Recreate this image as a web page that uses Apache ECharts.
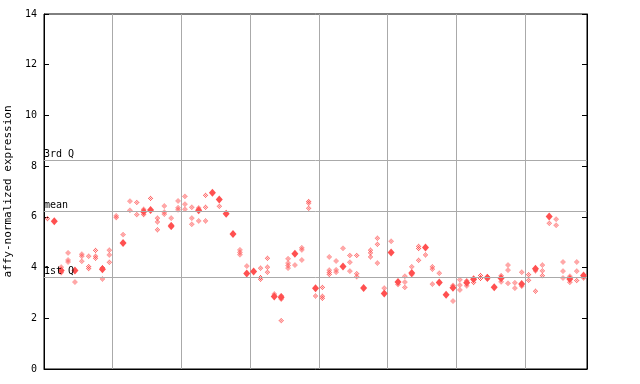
<!DOCTYPE html>
<html><head><meta charset="utf-8">
<script src="https://cdn.jsdelivr.net/npm/echarts@6/dist/echarts.min.js"></script>
<style>html,body{margin:0;padding:0;background:#fff}#c{width:640px;height:384px}</style>
</head><body><div id="c"></div>
<script>
// replicate values per sample (hatched diamonds)
var replicateValues = [
 [5.93],[],[4.02,3.80],[4.58,4.30,4.22],[3.43],[4.53,4.45,4.25],[4.45,4.04,3.96],[4.68,4.45,4.37],[4.00,3.55],[4.69,4.50,4.21],
 [6.04,5.97],[5.30],[6.62,6.26],[6.57,6.09],[6.30,6.09],[6.73],[5.95,5.80,5.49],[6.43,6.19,6.11],[5.95,5.68,5.60],[6.63,6.36,6.28],
 [6.81,6.50,6.30],[6.38,5.95,5.71],[6.35,5.84],[6.85,6.38,5.84],[],[6.42],[],[],[4.70,4.60,4.51],[4.06],
 [],[3.98,3.61,3.54],[4.37,4.02,3.82],[2.96],[2.89,2.76,1.91],[4.35,4.18,4.08,3.98],[4.10],[4.78,4.70,4.30],[6.61,6.54,6.34],[2.88],
 [3.22,2.87,2.79],[4.42,3.90,3.81,3.73],[4.26,3.91,3.82],[4.76],[4.48,4.21,3.86],[4.48,3.76,3.64],[],[4.69,4.58,4.42],[5.16,4.92,4.18],[3.19],
 [5.04],[3.33],[3.66,3.43,3.22],[4.03,3.72],[4.84,4.75,4.29],[4.50],[4.03,3.94,3.35],[3.78],[],[3.30,2.68],
 [3.52,3.31,3.12],[3.48,3.28],[3.41],[3.69,3.57],[3.65,3.55],[],[3.68,3.44],[4.10,3.90,3.38],[3.40,3.19],[3.82,3.27],
 [3.72,3.50],[3.87,3.07],[4.10,3.87,3.68],[5.75],[5.91,5.67],[4.22,3.86,3.59],[3.66,3.42],[4.22,3.86,3.49],[3.59]
];
// highlighted (solid) values per sample
var meanValues = [
 null,5.83,3.88,null,3.88,null,null,null,3.93,null,
 null,4.97,null,null,6.20,6.27,null,null,5.64,null,
 null,null,6.26,null,6.95,6.68,6.12,5.32,null,3.77,
 3.85,null,null,2.86,2.83,null,4.55,null,null,3.18,
 null,null,null,4.04,null,null,3.19,null,null,2.98,
 4.59,3.43,null,3.79,null,4.79,null,3.41,2.93,3.20,
 null,3.40,3.54,null,3.60,3.22,3.58,null,null,3.35,
 null,3.95,null,6.01,null,null,3.55,null,3.69
];
var yTicks = [0,2,4,6,8,10,12,14];
var quartileLabels = ['3rd Q','mean','1st Q'];
var quartileValues = [8.24, 6.22, 3.62];

var nSamples = replicateValues.length;
var repData = [];
replicateValues.forEach(function(arr,i){ arr.forEach(function(v){ repData.push([i+0.5, v]); }); });
var meanData = [];
meanValues.forEach(function(v,i){ if(v!==null) meanData.push([i+0.5, v]); });

// checkered diamond symbol image
function checkerDiamond(){
  var c = document.createElement('canvas'); c.width = 7; c.height = 7;
  var g = c.getContext('2d'); g.fillStyle = '#ff5050';
  for (var y=0;y<7;y++) for (var x=0;x<7;x++){
    if (Math.abs(x-3)+Math.abs(y-3) <= 3 && ((x+y)%2===0)) g.fillRect(x,y,1,1);
  }
  return 'image://' + c.toDataURL();
}

var mono = 'DejaVu Sans Mono';
var chart = echarts.init(document.getElementById('c'), null, {renderer:'canvas'});
chart.setOption({
  animation:false,
  grid:{left:44,right:53,top:14,bottom:15,containLabel:false,outerBoundsMode:'none',
    show:true,borderColor:'#000',borderWidth:1,backgroundColor:'#fff'},
  xAxis:{type:'value',min:0,max:nSamples,interval:10,
    axisLine:{show:true,lineStyle:{color:'#000'}},axisTick:{show:false},axisLabel:{show:false},
    splitLine:{show:true,lineStyle:{color:'#aaaaaa',width:1}}},
  yAxis:[{type:'value',min:yTicks[0],max:yTicks[yTicks.length-1],interval:2,
    name:'affy-normalized expression',nameLocation:'middle',nameGap:27,
    nameTextStyle:{fontFamily:mono,fontSize:11,color:'#000'},
    axisLine:{show:true,lineStyle:{color:'#000'}},
    axisTick:{show:true,inside:true,length:5,lineStyle:{color:'#000'}},
    axisLabel:{fontFamily:mono,fontSize:10,color:'#000',margin:7},
    splitLine:{show:false}},
   {type:'value',position:'right',min:yTicks[0],max:yTicks[yTicks.length-1],interval:2,
    axisLine:{show:true,lineStyle:{color:'#000'}},
    axisTick:{show:true,inside:true,length:5,lineStyle:{color:'#000'}},
    axisLabel:{show:false},splitLine:{show:false}}],
  series:[
   {type:'scatter',data:repData,symbol:checkerDiamond(),symbolSize:[7,7],
    itemStyle:{opacity:1},
    markLine:{silent:true,symbol:['none','none'],
      lineStyle:{color:'#aaaaaa',width:1,type:'solid'},
      label:{show:true,position:'insideStartTop',distance:[0,1],fontFamily:mono,fontSize:10,color:'#000',
        formatter:function(p){return p.name;}},
      data:quartileValues.map(function(v,i){return {name:quartileLabels[i],yAxis:v};})},
    z:3},
   {type:'scatter',data:meanData,symbol:'diamond',symbolSize:[7,8],
    itemStyle:{color:'#ff5050',opacity:1},z:4}
  ]
});
</script></body></html>
